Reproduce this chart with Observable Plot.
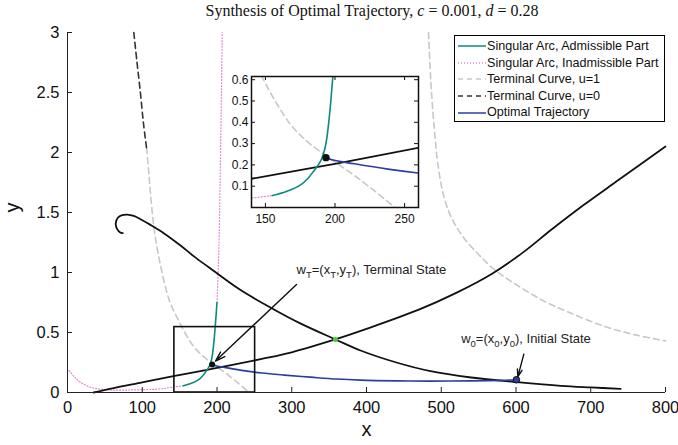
<!DOCTYPE html>
<html><head><meta charset="utf-8">
<script src="https://cdn.jsdelivr.net/npm/d3@7"></script>
<script src="https://cdn.jsdelivr.net/npm/@observablehq/plot@0.6"></script>
<style>
body{margin:0;background:#fff;}
#wrap{position:relative;width:678px;height:445px;overflow:hidden;font-family:"Liberation Sans",Arial,sans-serif;background:#fff;}
#wrap svg{position:absolute;left:0;top:0;}
#title{position:absolute;top:2px;left:0;width:744px;text-align:center;font-family:"Liberation Serif",serif;font-size:16px;color:#111;white-space:nowrap;z-index:3;}
#legend{position:absolute;left:454px;top:35px;width:211px;height:87px;border:1.3px solid #000;background:#fff;font-size:12.6px;z-index:3;padding-top:2px;box-sizing:border-box;}
#legend .row{height:16.6px;line-height:16.6px;display:flex;align-items:center;white-space:nowrap;color:#111;}
#legend svg{position:static;margin-left:3px;margin-right:1px;}
</style></head>
<body>
<div id="wrap">
  <div id="title"></div>
  <div id="legend"></div>
</div>
<script>
// ---------- data ----------
const xTicks = [0, 100, 200, 300, 400, 500, 600, 700, 800];
const yTicks = [0, 0.5, 1, 1.5, 2, 2.5, 3];
const insetXTicks = [150, 200, 250];
const insetYTicks = [0.1, 0.2, 0.3, 0.4, 0.5, 0.6];

const admissibleArc = [[155,0.056],[165,0.075],[175,0.105],[181,0.14],[185,0.174],[188,0.2],[190.5,0.23],[192.5,0.27],[194,0.32],[195.5,0.4],[197,0.5],[198.5,0.62],[200,0.75]];
const inadmissibleLow = [[2,0.183],[10,0.125],[17,0.086],[31,0.044],[53,0.022],[89,0.022],[124,0.03],[140,0.044],[155,0.056]];
const inadmissibleHigh = [[200,0.75],[201.5,1.0],[202.5,1.2],[204,1.7],[205.5,2.3],[207,3]];
const terminalU1Left = [[105.7,2.04],[108.5,1.85],[111,1.66],[115.5,1.38],[120,1.2],[124.4,1.06],[131,0.88],[137.8,0.74],[147,0.62],[157,0.5],[168,0.39],[180,0.31],[192,0.25],[203,0.2],[214,0.15],[228,0.08],[243,0]];
const terminalU1Right = [[483,3],[486,2.6],[490,2.25],[496,1.88],[504,1.62],[515,1.44],[530,1.29],[550,1.15],[572,1.02],[600,0.9],[635,0.77],[670,0.67],[719,0.55],[760,0.48],[800,0.43]];
const terminalU0 = [[88.7,3],[93,2.75],[97.5,2.5],[101.5,2.25],[105.7,2.04]];
const switchRising = [[35,0],[60,0.035],[100,0.085],[140,0.135],[200,0.205],[260,0.28],[300,0.335],[358,0.442],[400,0.53],[470,0.69],[520,0.83],[568,0.99],[610,1.17],[648,1.36],[690,1.56],[737,1.77],[800,2.05]];
const switchFalling = [[74,1.328],[70,1.336],[65.6,1.372],[64.6,1.411],[67.3,1.456],[73.2,1.478],[79.8,1.483],[88.7,1.472],[97.7,1.444],[111,1.397],[128.8,1.328],[151.2,1.225],[170,1.13],[189,1.044],[230,0.86],[273.8,0.70],[310,0.58],[358.5,0.442],[392,0.35],[440,0.25],[485.6,0.178],[540,0.125],[601.6,0.086],[660,0.055],[700,0.042],[740,0.031]];
const optimalTrajectory = [[193.5,0.236],[197,0.225],[214,0.205],[238,0.18],[260,0.162],[290,0.145],[325,0.128],[360,0.112],[392,0.103],[440,0.097],[485,0.095],[540,0.097],[580,0.101],[600.5,0.106]];
const terminalState = [[193.5,0.234]];
const initialState = [[600.5,0.106]];
const crossPoint = [[358.5,0.442]];
const zoomBox = [{x1:143, x2:251, y1:0, y2:0.545}];
const annotations = [
  {x:306.4, y:1.02, label:"w_T=(x_T,y_T), Terminal State"},
  {x:526.6, y:0.45, label:"w_0=(x_0,y_0), Initial State"}
];
const arrows = [
  {x1:306.4, y1:0.9, x2:198, y2:0.262},
  {x1:610.5, y1:0.32, x2:602.4, y2:0.13}
];
const legendLabels = ["Singular Arc, Admissible Part","Singular Arc, Inadmissible Part","Terminal Curve, u=1","Terminal Curve, u=0","Optimal Trajectory"];
const legendColors = ["#0b8a80","#e08ad4","#c8c8c8","#333333","#2b3da0"];
const legendDash = [null,"1,2","5,4","5,4",null];

// ---------- styles ----------
const C = {teal:"#0b8a80", pink:"#e08ad4", gray:"#c8c8c8", dark:"#333333", blue:"#2b3da0", black:"#111111"};
const px = d => d[0], py = d => d[1];
const FW = 598, FH = 360;

// ---------- title ----------
document.getElementById("title").innerHTML = "Synthesis of Optimal Trajectory, <i>c</i> = 0.001, <i>d</i> = 0.28";

// ---------- legend ----------
const leg = document.getElementById("legend");
legendLabels.forEach((lab,i)=>{
  const row = document.createElement("div"); row.className="row";
  row.innerHTML = `<svg width="28" height="10"><line x1="0" y1="5" x2="28" y2="5" stroke="${legendColors[i]}" stroke-width="1.5" ${legendDash[i]?`stroke-dasharray="${legendDash[i]}"`:""}/></svg><span>${lab}</span>`;
  leg.appendChild(row);
});

// ---------- main plot ----------
const main = Plot.plot({
  width:678, height:445, marginLeft:67, marginRight:13, marginTop:32, marginBottom:53,
  x:{domain:[0,800]}, y:{domain:[0,3]},
  style:{fontFamily:"'Liberation Sans', Arial, sans-serif", fontSize:"16.5px", color:"#111", background:"transparent"},
  marks:[
    Plot.line(inadmissibleLow, {x:px, y:py, stroke:C.pink, strokeWidth:1.2, strokeDasharray:"1,2", curve:"catmull-rom"}),
    Plot.line(inadmissibleHigh, {x:px, y:py, stroke:C.pink, strokeWidth:1.2, strokeDasharray:"1,2", curve:"catmull-rom"}),
    Plot.line(terminalU1Left, {x:px, y:py, stroke:C.gray, strokeWidth:1.6, strokeDasharray:"6,4", curve:"catmull-rom"}),
    Plot.line(terminalU1Right, {x:px, y:py, stroke:C.gray, strokeWidth:1.6, strokeDasharray:"6,4", curve:"catmull-rom"}),
    Plot.line(terminalU0, {x:px, y:py, stroke:C.dark, strokeWidth:1.6, strokeDasharray:"6,4", curve:"catmull-rom"}),
    Plot.line(switchRising, {x:px, y:py, stroke:C.black, strokeWidth:1.8, curve:"catmull-rom"}),
    Plot.line(switchFalling, {x:px, y:py, stroke:C.black, strokeWidth:1.8, curve:"catmull-rom"}),
    Plot.line(admissibleArc, {x:px, y:py, stroke:C.teal, strokeWidth:1.6, curve:"catmull-rom"}),
    Plot.line(optimalTrajectory, {x:px, y:py, stroke:C.blue, strokeWidth:1.6, curve:"catmull-rom"}),
    Plot.rect(zoomBox, {x1:"x1", x2:"x2", y1:"y1", y2:"y2", fill:"none", stroke:C.black, strokeWidth:1.6}),
    Plot.dot(terminalState, {x:px, y:py, r:3, fill:C.black}),
    Plot.dot(crossPoint, {x:px, y:py, r:2.5, fill:"#44cc33"}),
    Plot.dot(initialState, {x:px, y:py, r:3.3, fill:C.blue, stroke:"#111", strokeWidth:1}),
    Plot.arrow(arrows, {x1:"x1", y1:"y1", x2:"x2", y2:"y2", stroke:C.black, strokeWidth:1.4, headLength:11, headAngle:35}),
    Plot.text(annotations, {x:"x", y:"y", text:"label", textAnchor:"start", fontSize:13, fill:"#222"}),
    Plot.ruleX([0], {stroke:"#222"}),
    Plot.ruleY([0], {stroke:"#222"}),
    Plot.tickX(xTicks, {x:d=>d, insetTop:FH-5, stroke:"#222"}),
    Plot.tickY(yTicks, {y:d=>d, insetRight:FW-5, stroke:"#222"}),
    Plot.axisX({ticks:xTicks, tickSize:0, tickPadding:9, tickFormat:d=>String(d), label:null}),
    Plot.axisY({ticks:yTicks, tickSize:0, tickPadding:8, tickFormat:d=>String(d), label:null}),
    Plot.text(["x"], {frameAnchor:"bottom", dy:43, fontSize:20, fill:"#111"}),
    Plot.text(["y"], {frameAnchor:"left", dx:-55, rotate:-90, fontSize:20, fill:"#111"})
  ]
});

// ---------- inset plot ----------
const IW = 167, IH = 131;
const inset = Plot.plot({
  width:678, height:445, marginLeft:251, marginRight:260, marginTop:76, marginBottom:238,
  x:{domain:[140,260]}, y:{domain:[0,0.615]},
  style:{fontFamily:"'Liberation Sans', Arial, sans-serif", fontSize:"12px", color:"#111", background:"transparent"},
  marks:[
    Plot.frame({fill:"white", stroke:"none"}),
    Plot.line(inadmissibleLow, {x:px, y:py, stroke:C.pink, strokeWidth:1.2, strokeDasharray:"1,2", curve:"catmull-rom", clip:true}),
    Plot.line(terminalU1Left, {x:px, y:py, stroke:C.gray, strokeWidth:1.6, strokeDasharray:"6,4", curve:"catmull-rom", clip:true}),
    Plot.line(switchRising, {x:px, y:py, stroke:C.black, strokeWidth:1.8, curve:"catmull-rom", clip:true}),
    Plot.line(admissibleArc, {x:px, y:py, stroke:C.teal, strokeWidth:1.6, curve:"catmull-rom", clip:true}),
    Plot.line(optimalTrajectory, {x:px, y:py, stroke:C.blue, strokeWidth:1.6, curve:"catmull-rom", clip:true}),
    Plot.dot(terminalState, {x:px, y:py, r:3.7, fill:C.black}),
    Plot.frame({stroke:"#111", strokeWidth:1.5}),
    Plot.tickX(insetXTicks, {x:d=>d, insetTop:IH-4, stroke:"#111"}),
    Plot.tickX(insetXTicks, {x:d=>d, insetBottom:IH-4, stroke:"#111"}),
    Plot.tickY(insetYTicks, {y:d=>d, insetRight:IW-4, stroke:"#111"}),
    Plot.tickY(insetYTicks, {y:d=>d, insetLeft:IW-4, stroke:"#111"}),
    Plot.axisX({ticks:insetXTicks, tickSize:0, tickPadding:7, tickFormat:d=>String(d), label:null}),
    Plot.axisY({ticks:insetYTicks, tickSize:0, tickPadding:3, tickFormat:d=>String(d), label:null})
  ]
});

// subscripts for annotation labels
function subscriptify(svg){
  svg.querySelectorAll("text").forEach(t=>{
    if(!t.textContent.includes("_")) return;
    const s = t.textContent; t.textContent = "";
    const parts = s.split(/_(.)/);
    parts.forEach((p,i)=>{
      if(!p) return;
      const ts = document.createElementNS("http://www.w3.org/2000/svg","tspan");
      ts.textContent = p;
      if(i%2===1){ ts.setAttribute("dy","4"); ts.setAttribute("font-size","9.5"); }
      else if(i>0){ ts.setAttribute("dy","-4"); }
      t.appendChild(ts);
    });
  });
}
subscriptify(main);

const wrap = document.getElementById("wrap");
wrap.insertBefore(main, wrap.firstChild);
inset.style.zIndex = 2;
wrap.insertBefore(inset, document.getElementById("title"));
</script>
</body></html>
